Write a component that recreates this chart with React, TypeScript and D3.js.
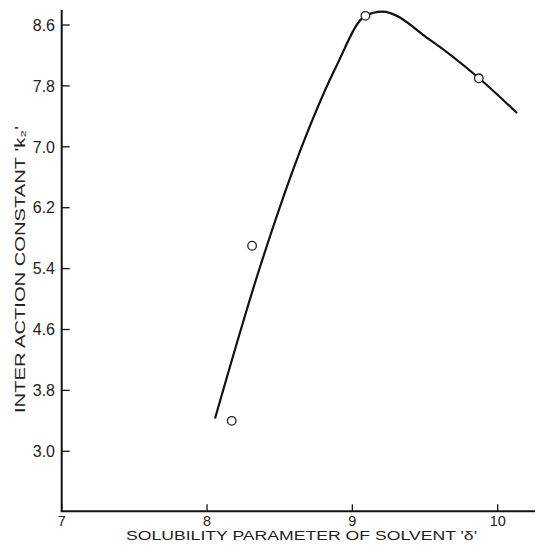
import React from "react";
import * as d3 from "d3";

const xTicks = [7, 8, 9, 10];
const yTicks = [3.0, 3.8, 4.6, 5.4, 6.2, 7.0, 7.8, 8.6];
const pointX = [8.17, 8.31, 9.09, 9.87];
const pointY = [3.4, 5.7, 8.72, 7.9];
const curveX = [8.055, 8.365, 8.674, 8.888, 9.087, 9.204, 9.534, 9.872, 10.133];
const curveY = [3.43, 5.424, 7.111, 8.052, 8.718, 8.777, 8.405, 7.9, 7.444];

const W = 542;
const H = 553;

export default function App() {
  const x = d3.scaleLinear().domain([7, 10]).range([61.7, 497.7]);
  const y = d3.scaleLinear().domain([3.0, 8.6]).range([451.3, 25]);
  const axisY = 511.3;
  const axisTop = 10;
  const axisRight = 535;
  const font = "'Liberation Sans', Arial, sans-serif";

  const line = d3
    .line<number>()
    .x((_, i) => x(curveX[i]))
    .y((_, i) => y(curveY[i]))
    .curve(d3.curveMonotoneX);

  return (
    <svg
      width={W}
      height={H}
      style={{ position: "absolute", left: 0, top: 0, background: "#fff" }}
    >
      <rect x={0} y={0} width={W} height={H} fill="#fff" />
      {/* axes */}
      <line x1={x(7)} x2={x(7)} y1={axisTop} y2={axisY} stroke="#111" strokeWidth={2} />
      <line x1={x(7) - 1} x2={axisRight} y1={axisY} y2={axisY} stroke="#111" strokeWidth={2} />
      {yTicks.map((t) => (
        <g key={"y" + t}>
          <line x1={x(7)} x2={x(7) + 8} y1={y(t)} y2={y(t)} stroke="#111" strokeWidth={1.3} />
          <text
            x={55}
            y={y(t)}
            dy="0.36em"
            textAnchor="end"
            fontFamily={font}
            fontSize={16}
            fill="#222"
          >
            {t.toFixed(1)}
          </text>
        </g>
      ))}
      {xTicks.map((t) => (
        <g key={"x" + t}>
          <line x1={x(t)} x2={x(t)} y1={axisY} y2={axisY - 7} stroke="#111" strokeWidth={1.3} />
          <text
            x={x(t)}
            y={526}
            textAnchor="middle"
            fontFamily={font}
            fontSize={14.5}
            fill="#222"
          >
            {t}
          </text>
        </g>
      ))}
      {/* titles */}
      <text
        x={301.5}
        y={540}
        textAnchor="middle"
        fontFamily={font}
        fontSize={12.5}
        fill="#222"
        textLength={351}
        lengthAdjust="spacingAndGlyphs"
      >
        SOLUBILITY PARAMETER OF SOLVENT 'δ'
      </text>
      <text
        transform={`translate(25,269.5) rotate(-90)`}
        textAnchor="middle"
        fontFamily={font}
        fontSize={14}
        fill="#222"
        textLength={287}
        lengthAdjust="spacingAndGlyphs"
      >
        INTER ACTION CONSTANT 'k₂'
      </text>
      {/* curve */}
      <path d={line(curveX) || ""} fill="none" stroke="#111" strokeWidth={2.2} />
      {/* points */}
      {pointX.map((px, i) => (
        <circle
          key={"p" + i}
          cx={x(px)}
          cy={y(pointY[i])}
          r={4.3}
          fill="#fff"
          stroke="#222"
          strokeWidth={1.3}
        />
      ))}
    </svg>
  );
}
